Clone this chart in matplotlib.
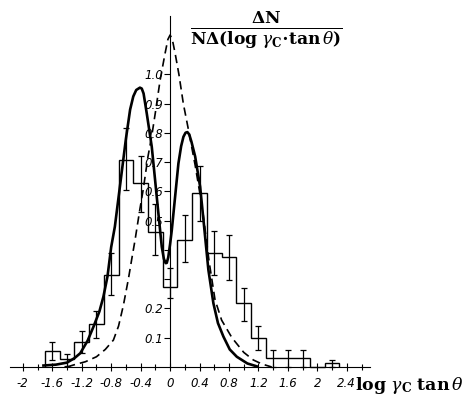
import numpy as np
import matplotlib
matplotlib.use("Agg")
import matplotlib.pyplot as plt

plt.rcParams["mathtext.fontset"] = "dejavuserif"

# histogram (bin edges every 0.2 from -1.7 to 2.3)
bin_edges = [-1.7, -1.5, -1.3, -1.1, -0.9, -0.7, -0.5, -0.3, -0.1, 0.1, 0.3,
             0.5, 0.7, 0.9, 1.1, 1.3, 1.5, 1.7, 1.9, 2.1, 2.3]
hist_vals = [0.055, 0.026, 0.085, 0.147, 0.316, 0.708, 0.628, 0.463, 0.274, 0.434,
             0.594, 0.39, 0.376, 0.218, 0.10, 0.03, 0.03, 0.03, 0.0, 0.013]

# error bars (bin centre, low, high)
err_x = [-1.6, -1.4, -1.2, -1.0, -0.8, -0.6, -0.4, -0.2, 0.0, 0.2, 0.4, 0.6, 0.8,
         1.0, 1.2, 1.4, 1.6, 1.8, 2.2]
err_lo = [0.024, 0.003, 0.047, 0.098, 0.246, 0.605, 0.531, 0.383, 0.235, 0.36, 0.50,
          0.314, 0.297, 0.157, 0.058, 0.0, 0.0, 0.0, 0.0]
err_hi = [0.087, 0.043, 0.123, 0.19, 0.39, 0.816, 0.72, 0.557, 0.34, 0.52, 0.687,
          0.466, 0.45, 0.27, 0.14, 0.058, 0.058, 0.058, 0.025]

# solid curve
solid_x = [-1.72, -1.55, -1.40, -1.30, -1.22, -1.12, -1.04, -0.96, -0.906, -0.85, -0.80,
           -0.75, -0.70, -0.65, -0.60, -0.543, -0.50, -0.46, -0.41, -0.385, -0.36,
           -0.317, -0.249, -0.204, -0.159, -0.113, -0.085, -0.06, -0.045, -0.025,
           0.0, 0.023, 0.068, 0.113, 0.15, 0.181, 0.21, 0.235, 0.26, 0.29, 0.34,
           0.408, 0.453, 0.52, 0.588, 0.65, 0.724, 0.81, 0.906, 1.05, 1.18]
solid_y = [0.005, 0.008, 0.015, 0.03, 0.047, 0.09, 0.138, 0.19, 0.24, 0.31, 0.41,
           0.48, 0.58, 0.68, 0.78, 0.88, 0.925, 0.947, 0.955, 0.952, 0.935,
           0.867, 0.753, 0.64, 0.525, 0.411, 0.37, 0.355, 0.356, 0.375,
           0.42, 0.468, 0.582, 0.696, 0.755, 0.787, 0.801, 0.803, 0.795, 0.77, 0.72,
           0.616, 0.503, 0.332, 0.218, 0.15, 0.104, 0.06, 0.035, 0.012, 0.002]

# dashed curve
dash_x = [-1.40, -1.31, -1.15, -1.0, -0.88, -0.77, -0.70, -0.635, -0.567, -0.52, -0.476,
          -0.41, -0.363, -0.30, -0.249, -0.20, -0.136, -0.07, -0.03, 0.0, 0.03, 0.07,
          0.12, 0.18, 0.25, 0.34, 0.40, 0.45, 0.53, 0.61, 0.70, 0.84, 1.0, 1.13, 1.25,
          1.38]
dash_y = [0.0, 0.007, 0.018, 0.035, 0.06, 0.092, 0.14, 0.21, 0.30, 0.37, 0.434,
          0.54, 0.61, 0.72, 0.79, 0.87, 0.98, 1.07, 1.12, 1.135, 1.12, 1.07,
          1.0, 0.9, 0.81, 0.69, 0.60, 0.52, 0.36, 0.23, 0.16, 0.10, 0.05, 0.024, 0.01,
          0.0]

fig = plt.figure(figsize=(4.72, 3.97), dpi=100)
ax = fig.add_axes([0, 0, 1, 1])
ax.set_xlim(-2.31, 4.10)
ax.set_ylim(-0.1026, 1.2547)

ax.stairs(hist_vals, bin_edges, color="black", lw=1.0)
err_c = (np.array(err_lo) + np.array(err_hi)) / 2
err_h = (np.array(err_hi) - np.array(err_lo)) / 2
ax.errorbar(err_x, err_c, yerr=err_h, fmt="none", ecolor="black", elinewidth=0.9,
            capsize=2.5, capthick=0.9)
ax.plot(solid_x, solid_y, color="black", lw=1.9, solid_joinstyle="round")
ax.plot(dash_x, dash_y, color="black", lw=1.2, dashes=(5, 3))

for s in ["top", "right"]:
    ax.spines[s].set_visible(False)
ax.spines["bottom"].set_position(("data", 0))
ax.spines["bottom"].set_bounds(-2.17, 2.72)
ax.spines["left"].set_position(("data", 0))
ax.spines["left"].set_bounds(0, 1.2)

tick_font = dict(family=["Liberation Sans Narrow", "DejaVu Sans"], style="italic", size=8.5)

xt = [-2, -1.6, -1.2, -0.8, -0.4, 0, 0.4, 0.8, 1.2, 1.6, 2, 2.4]
xt_labels = ["-2", "-1.6", "-1.2", "-0.8", "-0.4", "0", "0.4", "0.8", "1.2", "1.6", "2", "2.4"]
ax.set_xticks(xt)
ax.set_xticklabels(xt_labels, **tick_font)
ax.set_xticks([-1.8, -1.4, -1.0, -0.6, -0.2, 0.2, 0.6, 1.0, 1.4, 1.8, 2.2, 2.6], minor=True)
ax.tick_params(axis="x", which="major", direction="inout", length=6, width=0.8, pad=4)
ax.tick_params(axis="x", which="minor", direction="inout", length=4, width=0.8)

yt = [0.1, 0.2, 0.3, 0.4, 0.5, 0.6, 0.7, 0.8, 0.9, 1.0]
yt_labels = ["0.1", "0.2", "", "", "0.5", "0.6", "0.7", "0.8", "0.9", "1.0"]
ax.set_yticks(yt)
ax.set_yticklabels(yt_labels, **tick_font)
ax.tick_params(axis="y", direction="out", length=4, width=0.8, pad=1)

fig.text(355 / 472, 1 - 385 / 397, r"$\mathbf{log}\ \gamma_\mathbf{C}\ \mathbf{tan}\,\theta$",
         fontsize=12.5, ha="left", va="center")
fig.text(266 / 472, 1 - 30 / 397,
         r"$\frac{\mathbf{\Delta N}}{\mathbf{N\Delta(log}\ \gamma_\mathbf{C}\mathbf{\cdot tan}\,\theta\mathbf{)}}$",
         fontsize=17.5, ha="center", va="center")

fig.savefig("out.png", dpi=100)
plt.close()
